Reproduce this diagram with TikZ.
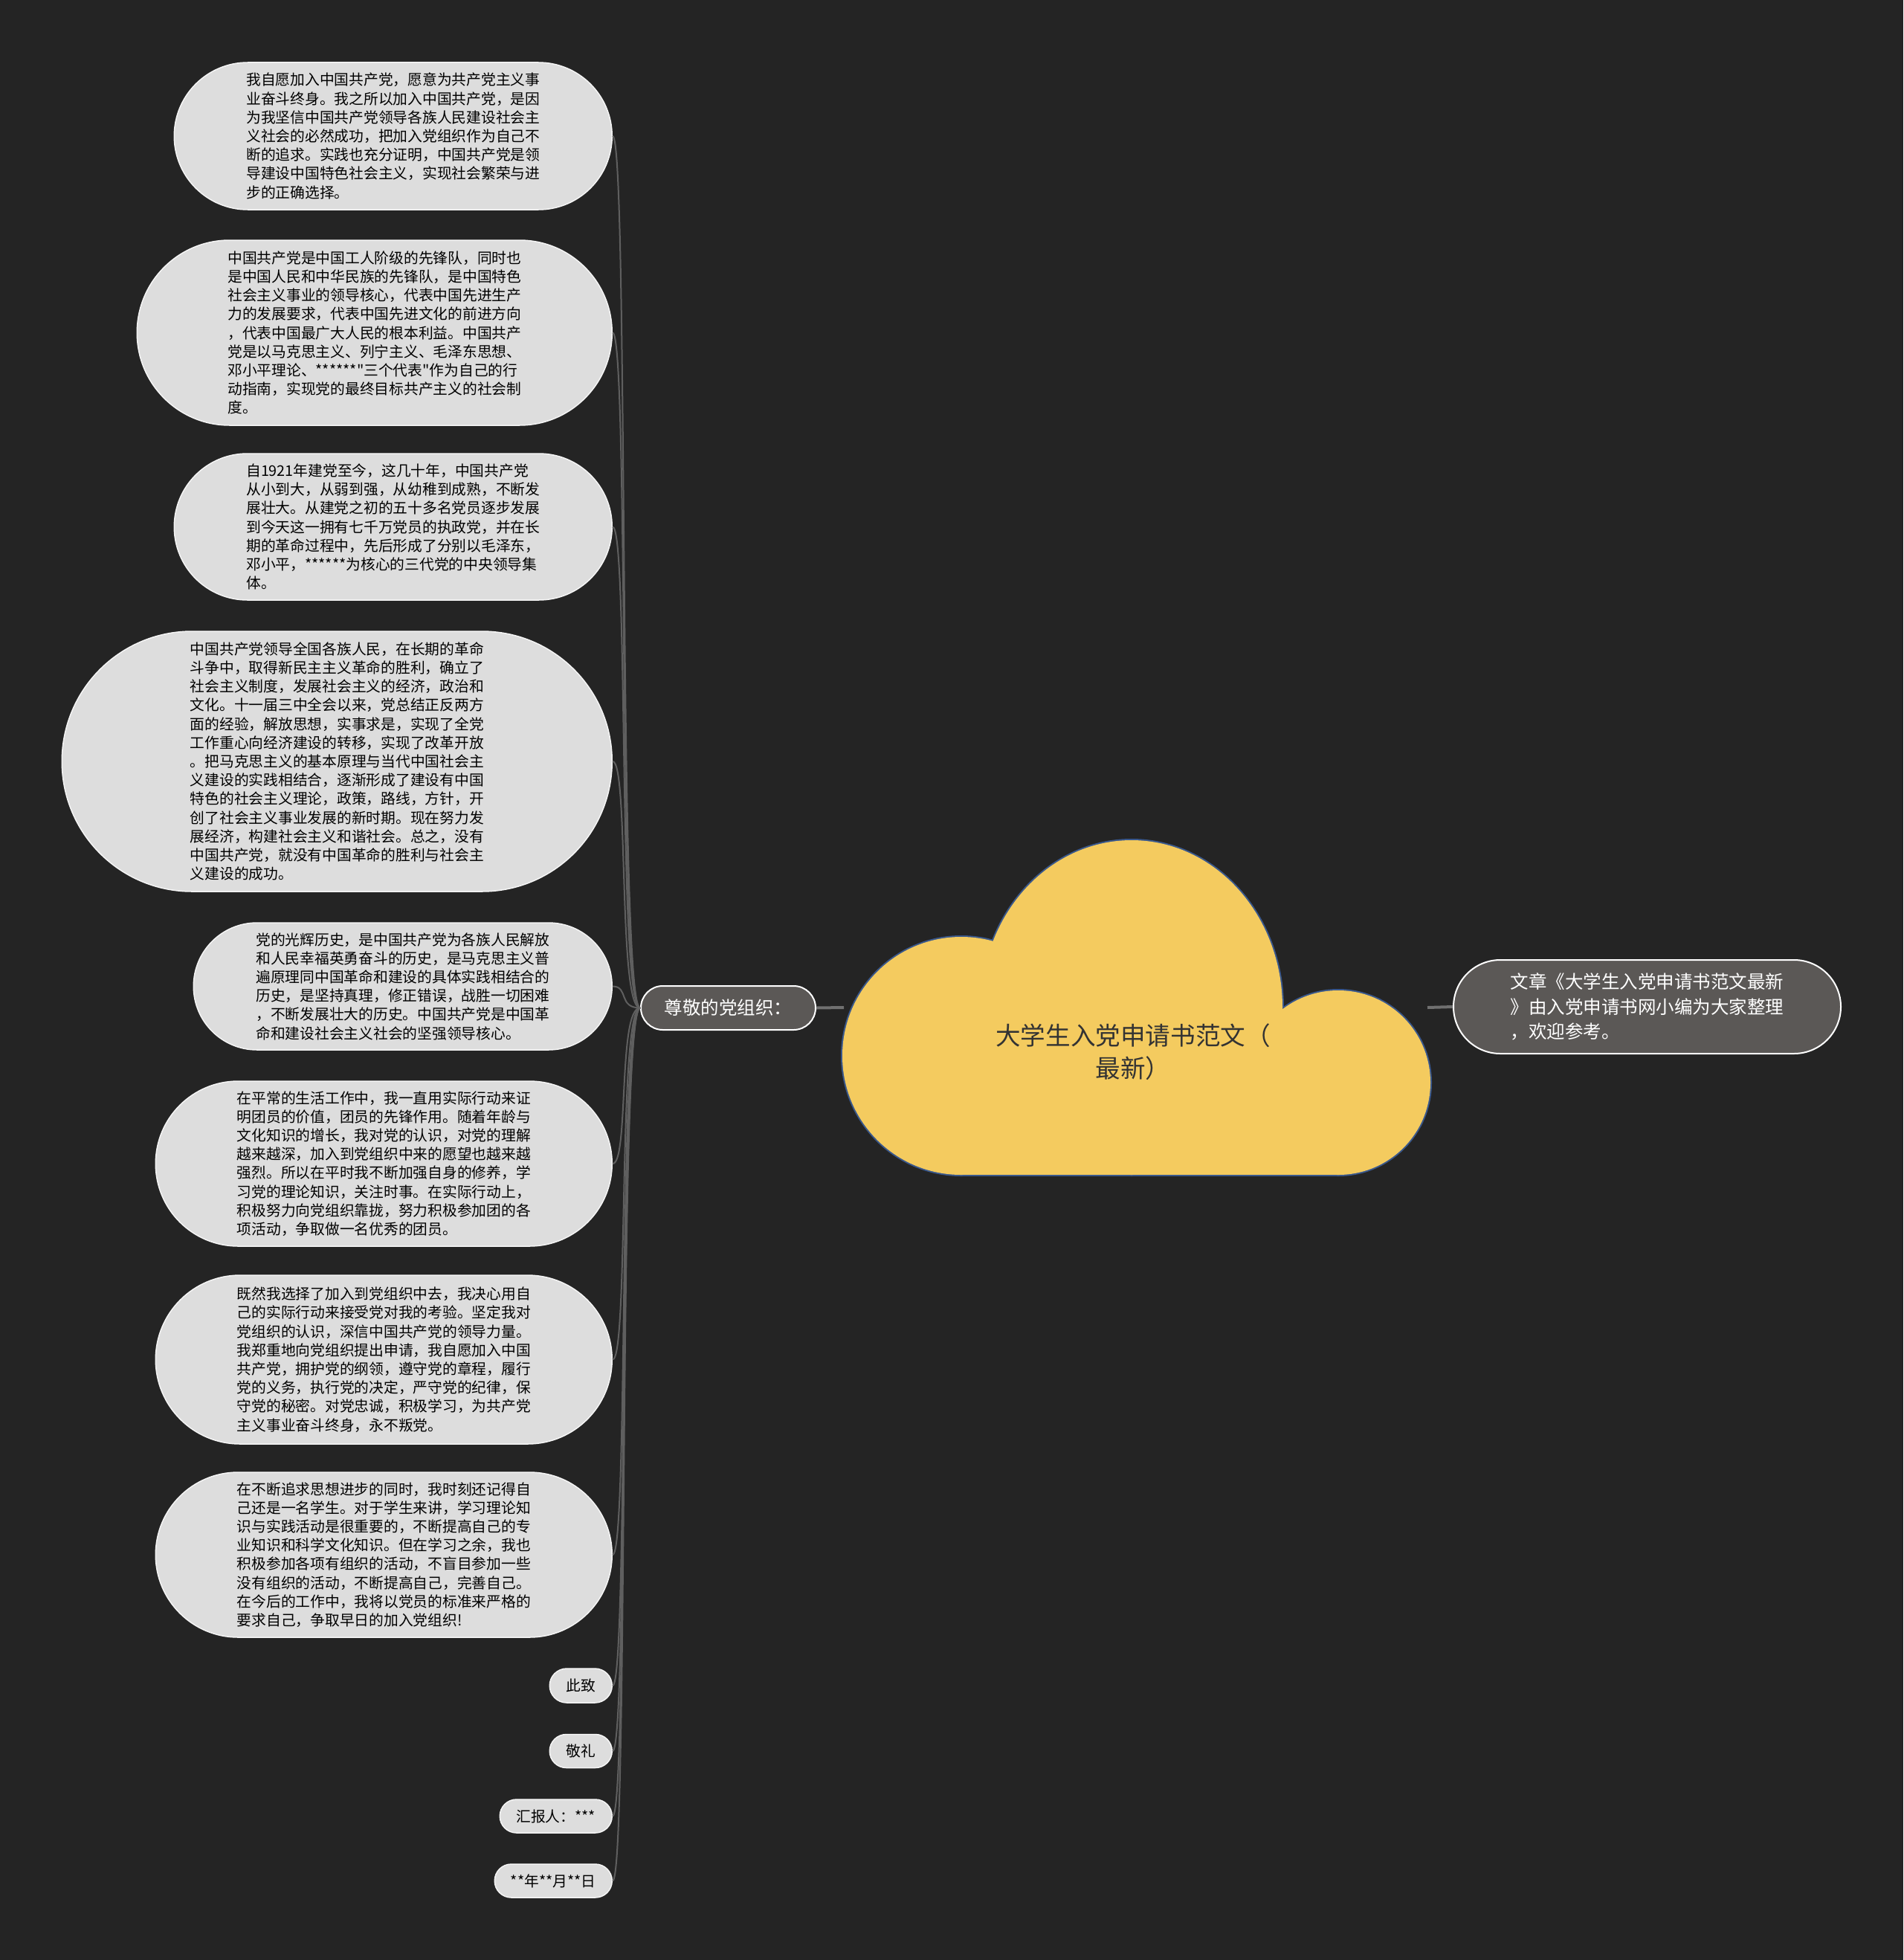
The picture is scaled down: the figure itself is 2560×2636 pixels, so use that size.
\documentclass[tikz,border=0pt]{standalone}
\usepackage{fontspec}
\setmainfont{Noto Sans CJK SC}[Ligatures=TeXOff]
\usepackage{tikz}
\usetikzlibrary{shapes.misc,positioning}
\tikzset{
	x=1pt, y=-1pt, % one unit is one pixel of the reference, y runs downwards
	leaf/.style = {rounded rectangle, draw=leafline, line width=1.5, fill=leaffill, text=black, align=left, inner sep=0pt, anchor=east, font=\fontsize{19.75}{25.2}\selectfont},
	mid/.style = {rounded rectangle, draw=white, line width=2, fill=midfill, text=white, align=left, inner sep=0pt, font=\fontsize{24.5}{33.6}\selectfont},
	rootlabel/.style = {align=center, text=roottext, inner sep=0pt, font=\fontsize{33.6}{44}\selectfont},
	twig/.style = {draw=twigcolor, line width=2},
	stem/.style = {draw=stemcolor, line width=4},
	cloudedge/.style = {draw=cloudline, line width=4}
}
\begin{document}
\begin{tikzpicture}
\definecolor{bgdark}{RGB}{36,36,36}
\definecolor{leaffill}{RGB}{221,221,221}
\definecolor{leafline}{RGB}{245,245,245}
\definecolor{midfill}{RGB}{91,88,86}
\definecolor{cloudfill}{RGB}{244,203,95}
\definecolor{cloudline}{RGB}{58,88,140}
\definecolor{roottext}{RGB}{51,51,51}
\definecolor{twigcolor}{RGB}{95,95,95}
\definecolor{stemcolor}{RGB}{112,112,112}
\fill[bgdark] (0,0) rectangle (2560,2636);
\useasboundingbox (0,0) rectangle (2560,2636);

% cloud: outline first, then the fills cover the inner half of it
\draw[cloudedge] (1522,1355) ellipse [x radius=203, y radius=225];
\draw[cloudedge] (1293,1420) circle [radius=160];
\draw[cloudedge] (1800,1456) circle [radius=124];
\draw[cloudedge] (1293,1420) rectangle (1800,1580);
\fill[cloudfill] (1522,1355) ellipse [x radius=203, y radius=225];
\fill[cloudfill] (1293,1420) circle [radius=160];
\fill[cloudfill] (1800,1456) circle [radius=124];
\fill[cloudfill] (1293,1420) rectangle (1800,1580);
\node[rootlabel] (root) at (1524,1415) {大学生入党申请书范文（\\最新）};
\coordinate (cloudL) at (1135,1355);
\coordinate (cloudR) at (1920,1355);

\node[mid, minimum width=235, minimum height=59] (br) at (979.5,1355.5) {尊敬的党组织：};
\node[mid, minimum width=521, minimum height=126] (note) at (2215.5,1354) {文章《大学生入党申请书范文最新\\》由入党申请书网小编为大家整理\\，欢迎参考。};

\node[leaf, minimum width=589, minimum height=198] (l1) at (824,183) {我自愿加入中国共产党，愿意为共产党主义事\\业奋斗终身。我之所以加入中国共产党，是因\\为我坚信中国共产党领导各族人民建设社会主\\义社会的必然成功，把加入党组织作为自己不\\断的追求。实践也充分证明，中国共产党是领\\导建设中国特色社会主义，实现社会繁荣与进\\步的正确选择。};
\node[leaf, minimum width=639, minimum height=249] (l2) at (824,447.5) {中国共产党是中国工人阶级的先锋队，同时也\\是中国人民和中华民族的先锋队，是中国特色\\社会主义事业的领导核心，代表中国先进生产\\力的发展要求，代表中国先进文化的前进方向\\，代表中国最广大人民的根本利益。中国共产\\党是以马克思主义、列宁主义、毛泽东思想、\\邓小平理论、******"三个代表"作为自己的行\\动指南，实现党的最终目标共产主义的社会制\\度。};
\node[leaf, minimum width=589, minimum height=197] (l3) at (824,708.5) {自1921年建党至今，这几十年，中国共产党\\从小到大，从弱到强，从幼稚到成熟，不断发\\展壮大。从建党之初的五十多名党员逐步发展\\到今天这一拥有七千万党员的执政党，并在长\\期的革命过程中，先后形成了分别以毛泽东，\\邓小平，******为核心的三代党的中央领导集\\体。};
\node[leaf, minimum width=740, minimum height=350] (l4) at (824,1024) {中国共产党领导全国各族人民，在长期的革命\\斗争中，取得新民主主义革命的胜利，确立了\\社会主义制度，发展社会主义的经济，政治和\\文化。十一届三中全会以来，党总结正反两方\\面的经验，解放思想，实事求是，实现了全党\\工作重心向经济建设的转移，实现了改革开放\\。把马克思主义的基本原理与当代中国社会主\\义建设的实践相结合，逐渐形成了建设有中国\\特色的社会主义理论，政策，路线，方针，开\\创了社会主义事业发展的新时期。现在努力发\\展经济，构建社会主义和谐社会。总之，没有\\中国共产党，就没有中国革命的胜利与社会主\\义建设的成功。};
\node[leaf, minimum width=563, minimum height=171] (l5) at (824,1326.5) {党的光辉历史，是中国共产党为各族人民解放\\和人民幸福英勇奋斗的历史，是马克思主义普\\遍原理同中国革命和建设的具体实践相结合的\\历史，是坚持真理，修正错误，战胜一切困难\\，不断发展壮大的历史。中国共产党是中国革\\命和建设社会主义社会的坚强领导核心。};
\node[leaf, minimum width=614, minimum height=222] (l6) at (824,1565) {在平常的生活工作中，我一直用实际行动来证\\明团员的价值，团员的先锋作用。随着年龄与\\文化知识的增长，我对党的认识，对党的理解\\越来越深，加入到党组织中来的愿望也越来越\\强烈。所以在平时我不断加强自身的修养，学\\习党的理论知识，关注时事。在实际行动上，\\积极努力向党组织靠拢，努力积极参加团的各\\项活动，争取做一名优秀的团员。};
\node[leaf, minimum width=614, minimum height=227] (l7) at (824,1828.5) {既然我选择了加入到党组织中去，我决心用自\\己的实际行动来接受党对我的考验。坚定我对\\党组织的认识，深信中国共产党的领导力量。\\我郑重地向党组织提出申请，我自愿加入中国\\共产党，拥护党的纲领，遵守党的章程，履行\\党的义务，执行党的决定，严守党的纪律，保\\守党的秘密。对党忠诚，积极学习，为共产党\\主义事业奋斗终身，永不叛党。};
\node[leaf, minimum width=614, minimum height=222] (l8) at (824,2091) {在不断追求思想进步的同时，我时刻还记得自\\己还是一名学生。对于学生来讲，学习理论知\\识与实践活动是很重要的，不断提高自己的专\\业知识和科学文化知识。但在学习之余，我也\\积极参加各项有组织的活动，不盲目参加一些\\没有组织的活动，不断提高自己，完善自己。\\在今后的工作中，我将以党员的标准来严格的\\要求自己，争取早日的加入党组织!};
\node[leaf, minimum width=84, minimum height=46] (s1) at (824,2267) {此致};
\node[leaf, minimum width=84, minimum height=45] (s2) at (824,2355) {敬礼};
\node[leaf, minimum width=151, minimum height=45] (s3) at (824,2442.5) {汇报人：***};
\node[leaf, minimum width=158, minimum height=45] (s4) at (824,2529.5) {**年**月**日};

\foreach \leafname in {l1,l2,l3,l4,l5,l6,l7,l8,s1,s2,s3,s4}
	\draw[twig] (br.west) .. controls +(-30,0) and +(22,0) .. (\leafname.east);
\draw[stem] (br.east) -- (cloudL);
\draw[stem] (cloudR) -- (note.west);
\end{tikzpicture}
\end{document}
